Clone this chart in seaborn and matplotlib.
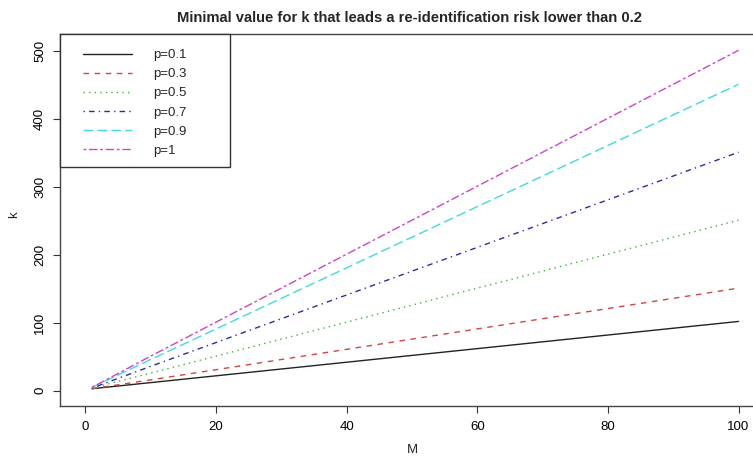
import matplotlib
matplotlib.use("Agg")
import matplotlib.pyplot as plt
from matplotlib.lines import Line2D
from matplotlib.patches import Rectangle
import numpy as np
import pandas as pd
import seaborn as sns

# values
M = [1, 10, 20, 30, 40, 50, 60, 70, 80, 90, 100]
k_p01 = [3, 12, 22, 32, 42, 52, 62, 72, 82, 92, 102]
k_p03 = [3, 16, 31, 46, 61, 76, 91, 106, 121, 136, 151]
k_p05 = [4, 26, 51, 76, 101, 126, 151, 176, 201, 226, 251]
k_p07 = [4, 36, 71, 106, 141, 176, 211, 246, 281, 316, 351]
k_p09 = [5, 46, 91, 136, 181, 226, 271, 316, 361, 406, 451]
k_p1 = [5, 51, 101, 151, 201, 251, 301, 351, 401, 451, 501]

labels = ["p=0.1", "p=0.3", "p=0.5", "p=0.7", "p=0.9", "p=1"]
series = [k_p01, k_p03, k_p05, k_p07, k_p09, k_p1]

x_ticks = [0, 20, 40, 60, 80, 100]
y_ticks = [0, 100, 200, 300, 400, 500]

df = pd.concat(
    [pd.DataFrame({"M": M, "k": vals, "p": lab}) for lab, vals in zip(labels, series)],
    ignore_index=True,
)

sns.set_style("ticks")
plt.rcParams["font.family"] = ["Liberation Sans", "DejaVu Sans"]

colors = ["#222222", "#D04545", "#3CB43C", "#2B2BA8", "#3FD9E0", "#CC44CC"]
dashes = ["", (4, 4), (1, 3), (1, 3, 4, 3), (7, 3), (2, 2, 6, 2)]

W, H = 753, 457
fig = plt.figure(figsize=(W / 100, H / 100), dpi=100)
ax = fig.add_axes([60 / W, 51.3 / H, 704 / W, 371.7 / H])

sns.lineplot(
    data=df, x="M", y="k", hue="p", style="p",
    palette=dict(zip(labels, colors)),
    dashes=dict(zip(labels, dashes)),
    linewidth=1.0, ax=ax, legend=False,
)

ax.set_xlim(-3.9, 103.9)
ax.set_ylim(-22, 525)
ax.set_xticks(x_ticks)
ax.set_yticks(y_ticks)
ax.set_yticklabels([str(v) for v in y_ticks], rotation=90, va="center")
ax.tick_params(axis="both", direction="out", length=5, width=0.8, colors="#333333",
               labelsize=9.5, labelcolor="black")
ax.tick_params(axis="x", pad=6)
ax.tick_params(axis="y", pad=5)
for s in ax.spines.values():
    s.set_visible(True)
    s.set_color("#444444")
    s.set_linewidth(1.0)

ax.set_xlabel("")
ax.set_ylabel("")
fig.text(412 / W, 1 - 450 / H, "M", ha="center", va="center", fontsize=9.5)
fig.text(14 / W, 1 - 215 / H, "k", ha="center", va="center", fontsize=9.5, rotation=90)
fig.text(410 / W, 1 - 18 / H, "Minimal value for k that leads a re-identification risk lower than 0.2",
         ha="center", va="center", fontsize=10.6, fontweight="bold")

# legend box drawn by hand so its width matches the reference
fig.patches.append(Rectangle((60 / W, 1 - 167 / H), 170 / W, 133 / H, transform=fig.transFigure,
                             facecolor="white", edgecolor="#333333", linewidth=1.0, zorder=4))
handles = [
    Line2D([], [], color=c, lw=1.0, linestyle=(0, d) if d else "-")
    for c, d in zip(colors, dashes)
]
leg = fig.legend(handles, labels, loc="upper left", bbox_to_anchor=(83 / W, 1 - 49 / H),
                 borderaxespad=0, borderpad=0, frameon=False, fontsize=9.5,
                 handlelength=3.7, handletextpad=1.6, labelspacing=0.52)
leg.set_zorder(6)

fig.savefig("out.png", dpi=100)
